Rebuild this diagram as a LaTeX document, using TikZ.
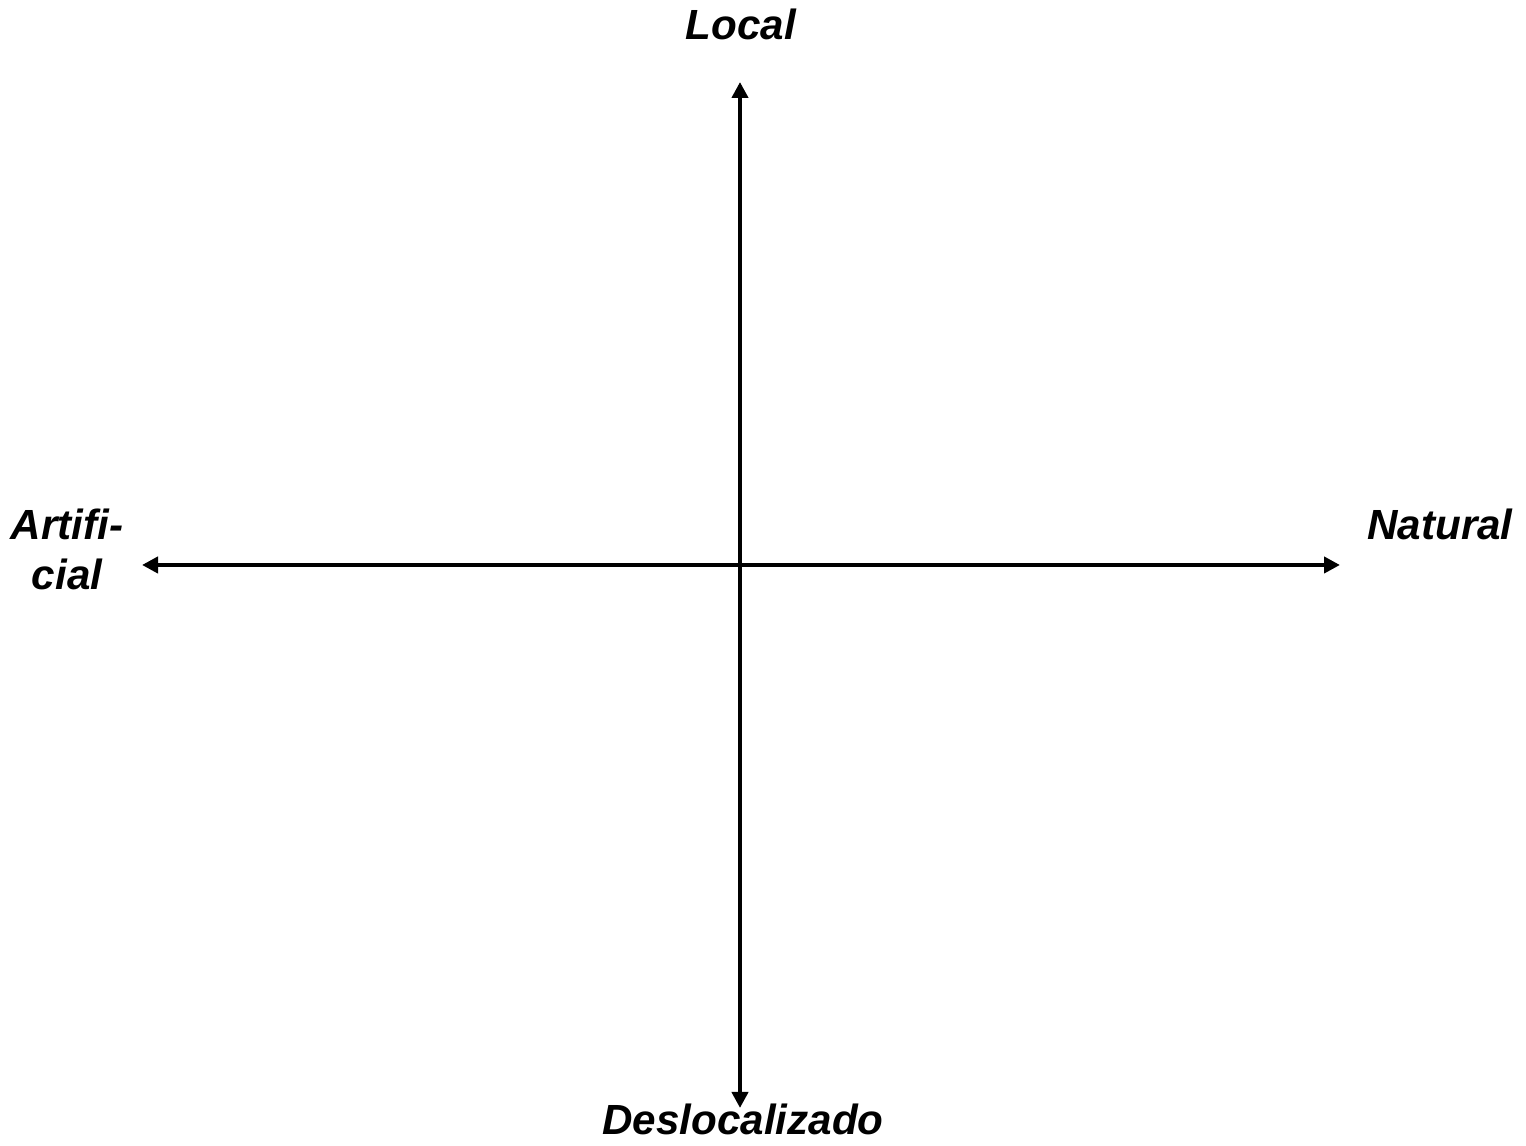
\documentclass[tikz,border=0pt]{standalone}
\usepackage{fontspec}
\setmainfont{Liberation Sans}
\usetikzlibrary{arrows.meta}

\begin{document}
\begin{tikzpicture}[
  axis/.style={>={Triangle[length=0.16cm,width=0.16cm]}, <->, line width=0.045cm},
  lbl/.style={anchor=base, inner sep=0pt, font=\fontsize{12}{14.5}\selectfont\bfseries\itshape}
]

\useasboundingbox (0,0) rectangle (15.26,11.46);

%\draw(0,0) grid ++ (15,11);

\coordinate (oben) at (7.40,10.64);
\coordinate (unten) at (7.40,0.38);
\coordinate (links) at (1.42,5.81);
\coordinate (rechts) at (13.40,5.81);

\draw[axis] (unten) -- (oben);
\draw[axis] (links) -- (rechts);

\node (local) at (7.41,11.06) [lbl]{Local};
\node (desloc) at (7.43,0.11) [lbl]{Deslocalizado};
\node (natural) at (14.40,6.06) [lbl]{Natural};
\node (artif) at (0.67,5.56) [lbl, align=center]{Artifi-\\cial};

\end{tikzpicture}
\end{document}
